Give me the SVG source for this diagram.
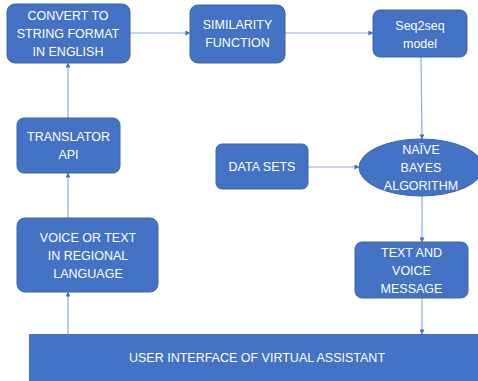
<svg xmlns="http://www.w3.org/2000/svg" width="478" height="381" viewBox="0 0 478 381">
<defs>
<style>
.box{fill:#4472c4;stroke:#3b65b0;stroke-width:1}
.t{fill:#ffffff;font-family:"Comic Sans MS","Liberation Sans","DejaVu Sans",sans-serif;font-size:12.5px;text-anchor:middle}
.c{stroke:#8eaadb;stroke-width:1.2;fill:none;marker-end:url(#ah)}
</style>
<marker id="ah" viewBox="0 0 6 6" refX="5.5" refY="3" markerWidth="5" markerHeight="5" orient="auto" markerUnits="userSpaceOnUse">
<path d="M0,0 L6,3 L0,6 z" fill="#4472c4"/>
</marker>
</defs>
<rect width="478" height="381" fill="#ffffff"/>
<g id="connectors">
<line class="c" x1="130" y1="33" x2="190" y2="33"/>
<line class="c" x1="285" y1="33" x2="373" y2="33"/>
<line class="c" x1="421" y1="57" x2="422" y2="139"/>
<line class="c" x1="308" y1="167" x2="359" y2="167"/>
<line class="c" x1="422" y1="196" x2="422" y2="242"/>
<line class="c" x1="422" y1="298" x2="422" y2="334"/>
<line class="c" x1="68" y1="334" x2="68" y2="292"/>
<line class="c" x1="68" y1="218" x2="68" y2="173"/>
<line class="c" x1="68" y1="118" x2="68" y2="63"/>
</g>
<g id="convert">
<rect class="box" x="7" y="4" width="123" height="59" rx="8"/>
<text class="t" x="68" y="20">CONVERT TO</text>
<text class="t" x="68" y="38">STRING FORMAT</text>
<text class="t" x="68" y="56">IN ENGLISH</text>
</g>
<g id="similarity">
<rect class="box" x="190" y="5" width="95" height="58" rx="8"/>
<text class="t" x="237.5" y="29">SIMILARITY</text>
<text class="t" x="237.5" y="47">FUNCTION</text>
</g>
<g id="seq2seq">
<rect class="box" x="373" y="10" width="94" height="47" rx="7"/>
<text class="t" x="420" y="30">Seq2seq</text>
<text class="t" x="420" y="48">model</text>
</g>
<g id="translator">
<rect class="box" x="17" y="118" width="103" height="55" rx="7"/>
<text class="t" x="68.5" y="141">TRANSLATOR</text>
<text class="t" x="68.5" y="159">API</text>
</g>
<g id="voice">
<rect class="box" x="17" y="218" width="141" height="74" rx="8"/>
<text class="t" x="88" y="242">VOICE OR TEXT</text>
<text class="t" x="88" y="260">IN REGIONAL</text>
<text class="t" x="88" y="278">LANGUAGE</text>
</g>
<g id="datasets">
<rect class="box" x="216" y="144" width="92" height="45" rx="6"/>
<text class="t" x="262" y="171">DATA SETS</text>
</g>
<g id="naivebayes">
<ellipse class="box" cx="421" cy="167.5" rx="62" ry="28.5"/>
<text class="t" x="421" y="154">NAÏVE</text>
<text class="t" x="421" y="172">BAYES</text>
<text class="t" x="421" y="190">ALGORITHM</text>
</g>
<g id="textvoice">
<rect class="box" x="355" y="242" width="113" height="56" rx="7"/>
<text class="t" x="411.5" y="257">TEXT AND</text>
<text class="t" x="411.5" y="275">VOICE</text>
<text class="t" x="411.5" y="293">MESSAGE</text>
</g>
<g id="ui">
<rect x="29" y="334" width="449" height="47" fill="#4472c4"/>
<text class="t" x="257" y="362">USER INTERFACE OF VIRTUAL ASSISTANT</text>
</g>
</svg>
